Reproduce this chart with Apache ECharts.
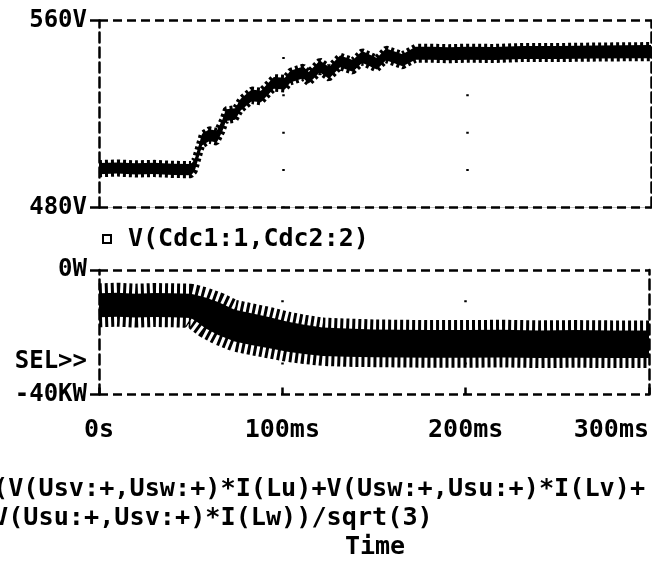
<!DOCTYPE html>
<html lang="en">
<head>
<meta charset="UTF-8">
<title>DC link voltage and power</title>
<style>
  html, body { margin: 0; padding: 0; background: #fff; }
  #chart { width: 652px; height: 562px; }
</style>
</head>
<body>
<div id="chart"></div>
<script src="https://cdn.jsdelivr.net/npm/echarts@6/dist/echarts.min.js"></script>
<script>
// upper trace V(Cdc1:1,Cdc2:2): solid band edges (V)
const timeTop = [0, 10, 20, 30, 40, 50, 52, 54, 56, 60, 64, 67, 69, 74, 77, 83, 88, 95, 101, 104,
  111, 114, 120, 125, 131, 138, 143, 151, 156, 165, 172, 181, 190, 200, 215, 230, 250, 270, 300];
const voltHigh = [499.0, 499.3, 498.9, 499.1, 498.7, 498.6, 500.5, 506.0, 511.5, 513.5, 512.8, 517.5, 522.0, 522.5,
  526.5, 530.5, 530.0, 535.8, 535.5, 538.5, 540.3, 538.0, 542.9, 540.1, 545.0, 543.1, 546.9, 544.0, 548.0, 545.6,
  548.8, 548.8, 548.6, 548.8, 548.7, 549.1, 549.1, 549.3, 549.5];
const voltLow = [494.2, 494.5, 494.1, 494.3, 493.9, 493.8, 495.5, 501.0, 506.5, 508.5, 507.8, 512.5, 517.0, 517.5,
  521.5, 525.5, 525.0, 530.8, 530.5, 533.5, 535.3, 533.0, 537.9, 535.1, 540.0, 538.1, 541.9, 539.0, 543.0, 540.4,
  543.2, 543.2, 543.0, 543.2, 543.1, 543.5, 543.5, 543.7, 543.9];

// lower trace: power, solid band edges (kW)
const timeBot = [0, 10, 20, 30, 40, 50, 53, 58, 65, 74, 83, 92, 103, 112, 122, 135, 150, 165, 180, 200, 220, 240, 260, 280, 300];
const powHigh = [-7.5, -7.3, -7.6, -7.4, -7.5, -7.6, -8.0, -8.8, -10.3, -12.8, -13.9, -15.0, -16.6, -17.6, -18.5,
  -18.8, -19.1, -19.2, -19.3, -19.3, -19.2, -19.4, -19.3, -19.4, -19.4];
const powLow = [-15.2, -15.0, -15.3, -15.1, -15.2, -15.4, -16.5, -18.7, -20.9, -23.0, -24.1, -25.1, -26.3, -27.0,
  -27.6, -27.9, -28.0, -28.1, -28.2, -28.2, -28.1, -28.3, -28.2, -28.3, -28.3];

// tick labels
const timeLabels = ['0s', '100ms', '200ms', '300ms'];
const voltLabels = ['480V', '560V'];
const powLabels = ['-40KW', '0W'];

const FONT = 'DejaVu Sans Mono';
const INK = '#000';

const pairs = (t, a) => t.map((x, i) => [x, a[i]]);

const labelStyle = { fontFamily: FONT, fontWeight: 'bold', fontSize: 24, color: INK };
const border = { show: true, lineStyle: { color: INK, width: 2.5, type: [9, 5] } };

function xAxisFor(grid, showLabels, dotGap) {
  return {
    type: 'value', gridIndex: grid, min: 0, max: 300, interval: 100, z: 10,
    axisLine: { show: false, onZero: false },
    axisTick: { show: showLabels, inside: true, length: 7, lineStyle: { color: INK, width: 2.5 } },
    axisLabel: {
      show: showLabels, ...labelStyle, fontSize: 25, margin: 23,
      alignMaxLabel: 'right',
      formatter: v => timeLabels[Math.round(v / 100)]
    },
    splitLine: {
      show: true, showMinLine: false, showMaxLine: false,
      lineStyle: { color: INK, width: 2.5, type: [2, dotGap], dashOffset: 1 }
    }
  };
}

function leftAxis(grid, min, max, labels) {
  return {
    type: 'value', gridIndex: grid, min: min, max: max, interval: max - min, z: 10,
    axisLine: { show: true, onZero: false, lineStyle: { color: INK, width: 2.5, type: [10, 5] } },
    axisTick: { show: true, length: 9, lineStyle: { color: INK, width: 2.5 } },
    axisLabel: { ...labelStyle, margin: 12, formatter: v => labels[Math.round((v - min) / (max - min))] },
    splitLine: border
  };
}

function rightAxis(grid, min, max) {
  return {
    type: 'value', gridIndex: grid, position: 'right', min: min, max: max, z: 10,
    axisLine: { show: true, onZero: false, lineStyle: { color: INK, width: 2.5, type: [10, 5] } },
    axisTick: { show: false }, axisLabel: { show: false }, splitLine: { show: false }
  };
}

// one edge of a band: area filled towards one end of the axis, edge drawn as a toothed line
function edge(name, xi, yi, data, fill, origin, teeth) {
  return {
    name: name, type: 'line', xAxisIndex: xi, yAxisIndex: yi,
    data: data, symbol: 'none', silent: true,
    lineStyle: { color: INK, width: teeth, type: [3, 3] },
    areaStyle: { color: fill, opacity: 1, origin: origin }
  };
}

const chart = echarts.init(document.getElementById('chart'));
chart.setOption({
  animation: false,
  backgroundColor: '#fff',
  grid: [
    { left: 99, top: 20.5, width: 552, height: 187 },
    { left: 99, top: 270, width: 552, height: 124.5 }
  ],
  xAxis: [xAxisFor(0, false, 35.4), xAxisFor(1, true, 29.125)],
  yAxis: [
    leftAxis(0, 480, 560, voltLabels),
    rightAxis(0, 480, 560),
    leftAxis(1, -40, 0, powLabels),
    rightAxis(1, -40, 0)
  ],
  series: [
    edge('V(Cdc1:1,Cdc2:2)', 0, 0, pairs(timeTop, voltHigh), INK, 'start', 6),
    edge('vLow', 0, 0, pairs(timeTop, voltLow), '#fff', 'start', 6),
    edge('power', 1, 2, pairs(timeBot, powLow), INK, 'end', 20),
    edge('pHigh', 1, 2, pairs(timeBot, powHigh), '#fff', 'end', 20)
  ],
  graphic: [
    { type: 'rect', shape: { x: 103, y: 235, width: 8, height: 8 },
      style: { fill: '#fff', stroke: INK, lineWidth: 2 } },
    { type: 'text', x: 128, y: 239,
      style: { text: 'V(Cdc1:1,Cdc2:2)', font: 'bold 25px ' + FONT, fill: INK, verticalAlign: 'middle' } },
    { type: 'text', x: 87, y: 362,
      style: { text: 'SEL>>', font: 'bold 24px ' + FONT, fill: INK, align: 'right', verticalAlign: 'middle' } },
    { type: 'text', x: -7, y: 489,
      style: { text: '(V(Usv:+,Usw:+)*I(Lu)+V(Usw:+,Usu:+)*I(Lv)+', font: 'bold 25.2px ' + FONT, fill: INK, verticalAlign: 'middle' } },
    { type: 'text', x: -7, y: 518,
      style: { text: 'V(Usu:+,Usv:+)*I(Lw))/sqrt(3)', font: 'bold 25.2px ' + FONT, fill: INK, verticalAlign: 'middle' } },
    { type: 'text', x: 375, y: 547,
      style: { text: 'Time', font: 'bold 25px ' + FONT, fill: INK, align: 'center', verticalAlign: 'middle' } }
  ]
});
</script>
</body>
</html>
